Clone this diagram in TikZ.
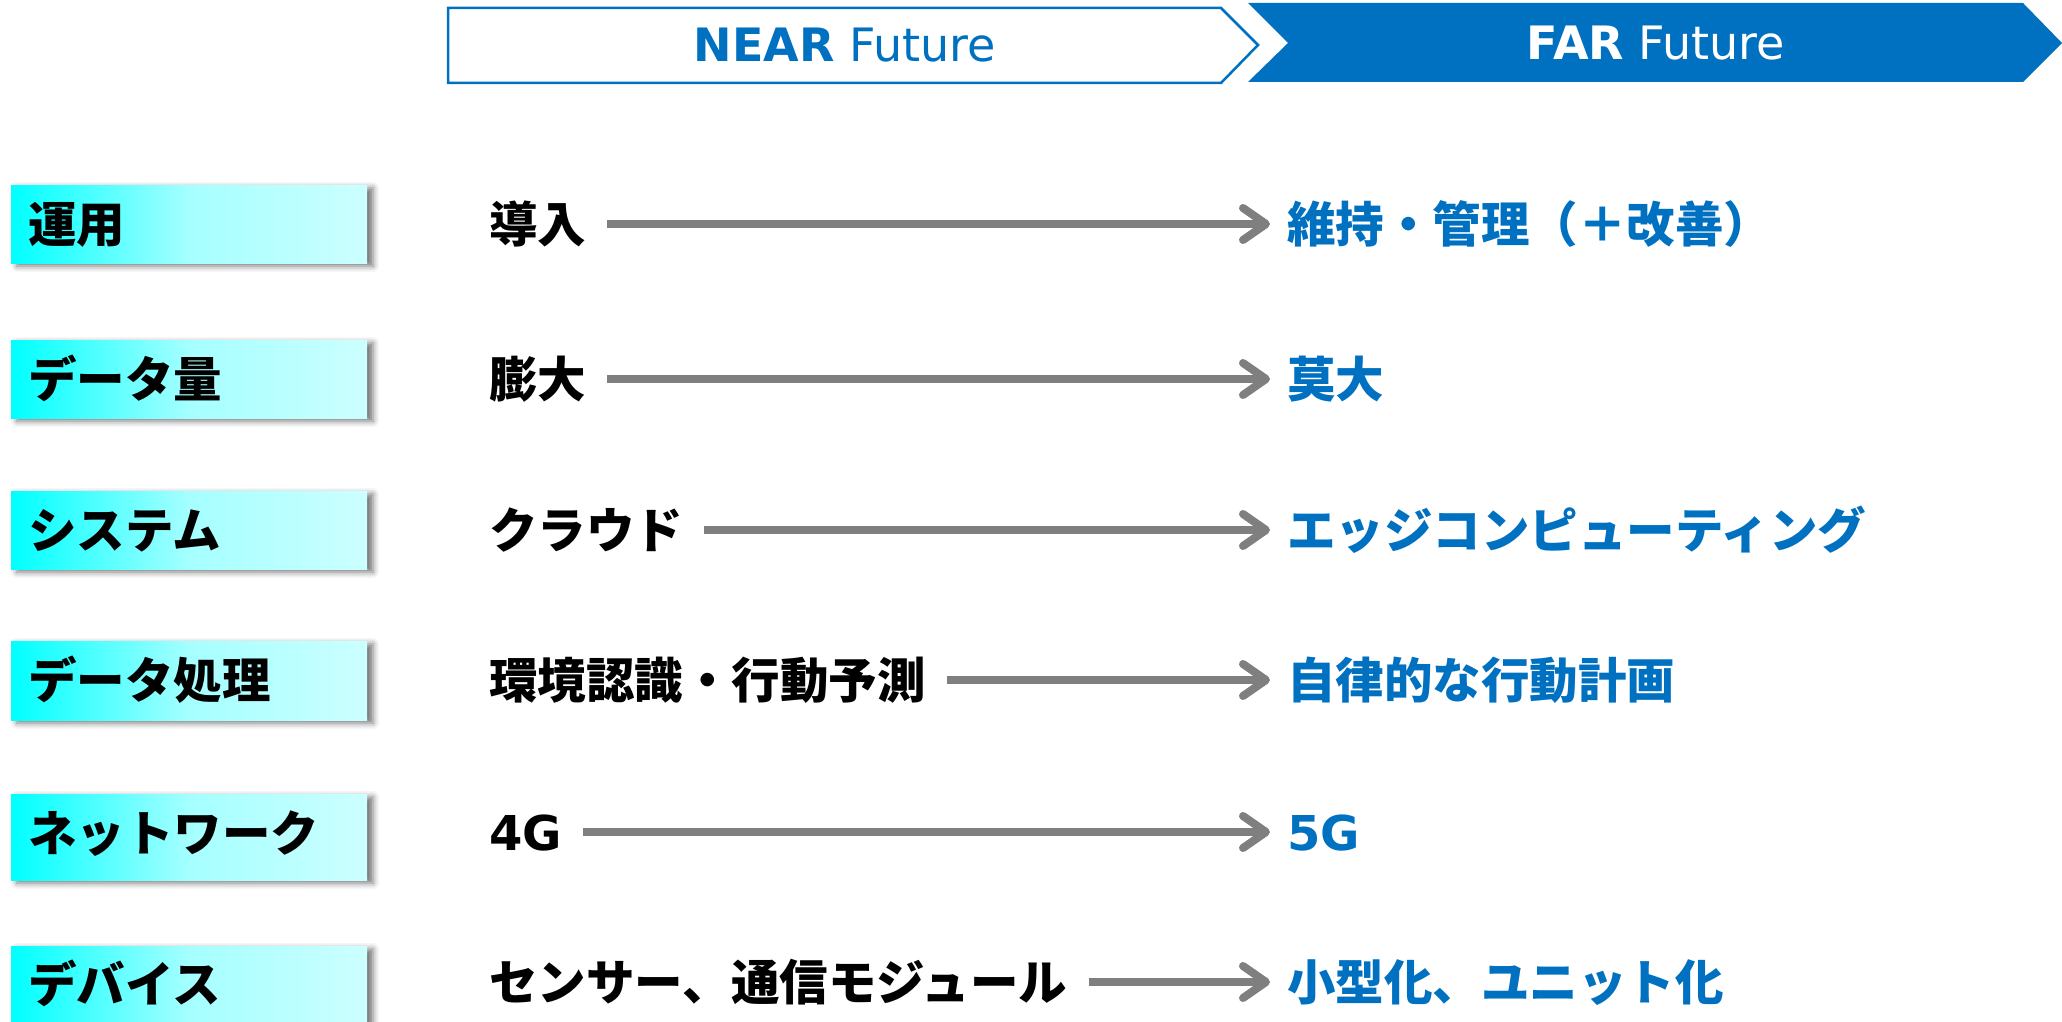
\documentclass[tikz,border=0pt]{standalone}
\usepackage{fontspec}
\usetikzlibrary{arrows.meta,shadows.blur}
\newfontfamily\cjk{Noto Sans CJK JP}
\newfontfamily\dvs{DejaVu Sans}
\definecolor{blu}{RGB}{0,112,192}
\definecolor{arrg}{RGB}{127,127,127}
\definecolor{cyanA}{RGB}{0,255,255}
\definecolor{cyanM}{RGB}{165,255,255}
\definecolor{cyanB}{RGB}{204,255,255}
\begin{document}
\begin{tikzpicture}[x=1pt,y=-1pt,
  hdr/.style={inner sep=0pt, text height=33.5pt, text depth=0pt, font=\dvs\fontsize{46}{50}\selectfont},
  catbox/.style={draw=none, minimum width=356pt, inner sep=0pt,
     left color=cyanA, right color=cyanB, middle color=cyanM,
     blur shadow={shadow xshift=6pt, shadow yshift=-3pt, shadow blur radius=6pt, shadow opacity=55}},
  cjktxt/.style={anchor=west, inner sep=0pt, text height=42pt, text depth=6pt,
     font=\cjk\bfseries\fontsize{48.5}{56}\selectfont},
  cat/.style={cjktxt, text=black},
  near/.style={cjktxt, text=black},
  far/.style={cjktxt, text=blu},
  arr/.style={draw=arrg, line width=8pt,
     -{Straight Barb[length=23pt, width=32pt, line width=8pt, round]}}
]
\useasboundingbox (0,0) rectangle (2062,1022);
\clip (0,0) rectangle (2062,1022);

% header chevrons
\path[fill=white, draw=blu, line width=2.5pt]
  (448,8) -- (1221,8) -- (1258,45) -- (1221,83) -- (448,83) -- cycle;
\path[fill=blu]
  (1248,3) -- (2023,3) -- (2062,43) -- (2023,82) -- (1248,82) -- (1288,43) -- cycle;
\node[hdr, text=blu] (nearh) at (845,45) {{\bfseries NEAR} Future};
\node[hdr, text=white] (farh) at (1656,43) {{\bfseries FAR} Future};

% category boxes
\node[catbox, minimum height=78pt] (b1) at (189,224) {};
\node[catbox, minimum height=78pt] (b2) at (189,379) {};
\node[catbox, minimum height=78pt] (b3) at (189,530) {};
\node[catbox, minimum height=79pt] (b4) at (189,680.5) {};
\node[catbox, minimum height=86pt] (b5) at (189,837) {};
\node[catbox, minimum height=78pt] (b6) at (189,985) {};

\node[cat] (c1) at (28,224) {運用};
\node[cat] (c2) at (28,379) {データ量};
\node[cat] (c3) at (28,530) {システム};
\node[cat] (c4) at (28,680) {データ処理};
\node[cat] (c5) at (28,833) {ネットワーク};
\node[cat] (c6) at (28,984) {デバイス};

% near-future texts
\node[near] (n1) at (489,224) {導入};
\node[near] (n2) at (489,379) {膨大};
\node[near] (n3) at (489,530) {クラウド};
\node[near] (n4) at (489,680) {環境認識・行動予測};
\node[near, font=\dvs\bfseries\fontsize{48}{56}\selectfont] (n5) at (489,832) {4G};
\node[near] (n6) at (489,982) {センサー、通信モジュール};

% far-future texts
\node[far] (f1) at (1287,224) {維持・管理（＋改善）};
\node[far] (f2) at (1287,379) {莫大};
\node[far] (f3) at (1287,530) {エッジコンピューティング};
\node[far] (f4) at (1287,680) {自律的な行動計画};
\node[far, font=\dvs\bfseries\fontsize{48}{56}\selectfont] (f5) at (1287,832) {5G};
\node[far] (f6) at (1287,982) {小型化、ユニット化};

% arrows
\foreach \i in {1,...,6}{
  \draw[arr] ([xshift=21pt]n\i.east) -- ([xshift=-17pt]f\i.west);
}
\end{tikzpicture}
\end{document}
